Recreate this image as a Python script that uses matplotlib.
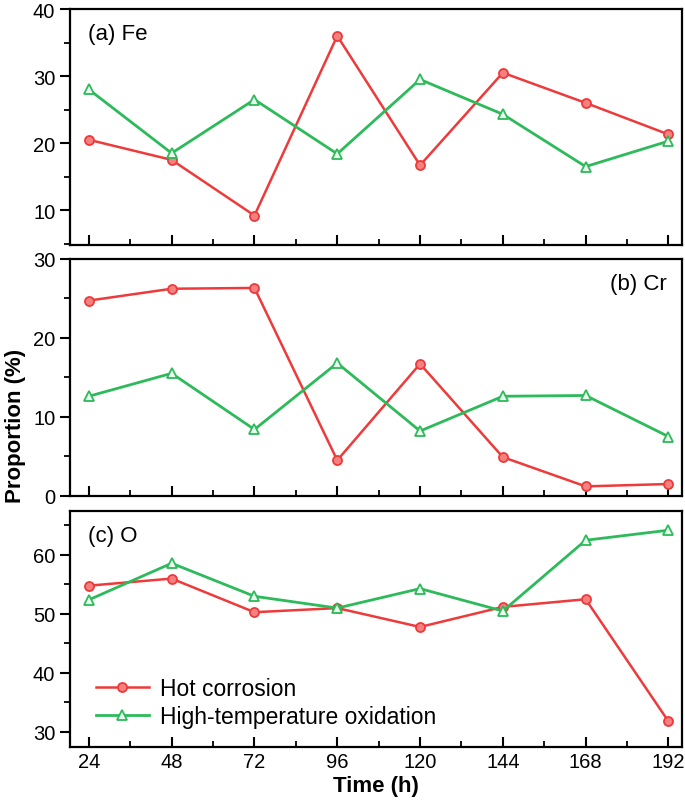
import matplotlib.pyplot as plt
from matplotlib.ticker import MultipleLocator

plt.rcParams['font.family'] = ['Liberation Sans', 'DejaVu Sans']

time_h = [24, 48, 72, 96, 120, 144, 168, 192]

fe_hot = [20.5, 17.5, 9.2, 36.0, 16.7, 30.5, 26.0, 21.3]
fe_oxi = [28.0, 18.5, 26.5, 18.4, 29.5, 24.3, 16.5, 20.3]

cr_hot = [24.7, 26.2, 26.3, 4.5, 16.7, 4.9, 1.2, 1.5]
cr_oxi = [12.6, 15.5, 8.4, 16.8, 8.2, 12.6, 12.7, 7.5]

o_hot = [54.8, 56.0, 50.3, 51.0, 47.8, 51.2, 52.5, 31.8]
o_oxi = [52.4, 58.6, 53.0, 51.0, 54.3, 50.5, 62.5, 64.2]

red = '#ee3a3a'
green = '#2dba5a'

fig = plt.figure(figsize=(6.85, 8.04), dpi=100)
ax_a = fig.add_axes([0.102, 0.694, 0.894, 0.2935])
ax_b = fig.add_axes([0.102, 0.382, 0.894, 0.295])
ax_c = fig.add_axes([0.102, 0.070, 0.894, 0.2935])

panels = [
    (ax_a, fe_hot, fe_oxi, (4.8, 40), 10),
    (ax_b, cr_hot, cr_oxi, (0, 30), 10),
    (ax_c, o_hot, o_oxi, (27.5, 67.5), 10),
]

for ax, hot, oxi, ylim, step in panels:
    ax.plot(time_h, hot, '-', color=red, lw=1.8, marker='o', ms=6.5,
            mfc='#f58080', mec=red, mew=1.3, label='Hot corrosion')
    ax.plot(time_h, oxi, '-', color=green, lw=2.0, marker='^', ms=7.5,
            mfc='#eafaee', mec=green, mew=1.3, label='High-temperature oxidation')
    ax.set_xlim(18.5, 196)
    ax.set_ylim(*ylim)
    ax.xaxis.set_major_locator(MultipleLocator(24))
    ax.xaxis.set_minor_locator(MultipleLocator(12))
    ax.yaxis.set_major_locator(MultipleLocator(step))
    ax.yaxis.set_minor_locator(MultipleLocator(step / 2))
    ax.tick_params(which='major', direction='in', length=7, width=1.5, labelsize=14.5)
    ax.tick_params(axis='y', which='major', direction='out', length=7, width=1.5)
    ax.tick_params(which='minor', direction='in', length=4, width=1.3)
    ax.tick_params(axis='y', which='minor', direction='out', length=4, width=1.3)
    for sp in ax.spines.values():
        sp.set_linewidth(1.6)
    if ax is not ax_c:
        ax.tick_params(axis='x', labelbottom=False)

ax_a.text(0.03, 0.94, '(a) Fe', transform=ax_a.transAxes, fontsize=16, va='top')
ax_b.text(0.975, 0.94, '(b) Cr', transform=ax_b.transAxes, fontsize=16, va='top', ha='right')
ax_c.text(0.03, 0.94, '(c) O', transform=ax_c.transAxes, fontsize=16, va='top')

ax_c.legend(loc='lower left', frameon=False, fontsize=16.5, handlelength=2.3,
            borderaxespad=0.2, labelspacing=0.25, handletextpad=0.5,
            bbox_to_anchor=(0.02, 0.02))

ax_c.set_xlabel('Time (h)', fontsize=16, fontweight='bold', labelpad=3)
fig.text(0.022, 0.47, 'Proportion (%)', rotation=90, fontsize=16,
         fontweight='bold', ha='center', va='center')

fig.savefig('out.png', dpi=100)
